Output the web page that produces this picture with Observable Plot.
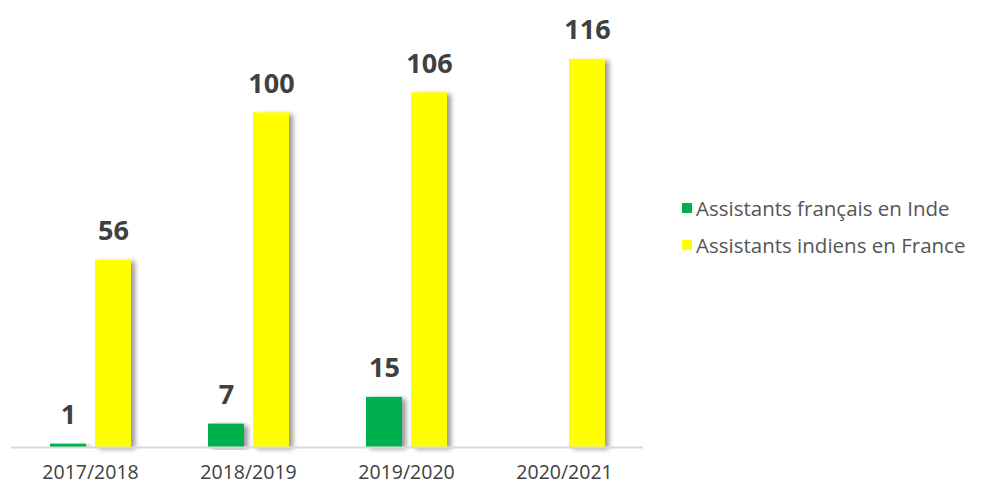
<!DOCTYPE html>
<html>
<head>
<meta charset="utf-8">
<script src="https://cdn.jsdelivr.net/npm/d3@7"></script>
<script src="https://cdn.jsdelivr.net/npm/@observablehq/plot@0.6"></script>
<style>
  html, body { margin: 0; padding: 0; background: #fff; }
  #wrap { position: relative; width: 984px; height: 489px; font-family: "Open Sans", sans-serif; }
  #legend { position: absolute; left: 682px; top: 189px; font-size: 20.5px; color: #555555; }
  #legend .item { display: flex; align-items: center; height: 37px; }
  #legend .sw { width: 10px; height: 10px; margin-right: 4px; }
</style>
</head>
<body>
<div id="wrap"><div id="chart"></div><div id="legend"></div></div>
<script>
const seasons = ["2017/2018", "2018/2019", "2019/2020", "2020/2021"];
const seriesNames = ["Assistants français en Inde", "Assistants indiens en France"];
const francais = [1, 7, 15, null];
const indiens = [56, 100, 106, 116];
const colors = ["#00b050", "#ffff00"];

const rows = [];
seasons.forEach((s, i) => {
  if (francais[i] != null) rows.push({season: s, series: seriesNames[0], value: francais[i]});
  if (indiens[i] != null) rows.push({season: s, series: seriesNames[1], value: indiens[i]});
});

const chart = Plot.plot({
  width: 984,
  height: 489,
  marginLeft: 10,
  marginRight: 340,
  marginTop: 12,
  marginBottom: 42,
  style: {fontFamily: "Open Sans, sans-serif", background: "#fff"},
  fx: {domain: seasons, padding: 0, label: null, tickSize: 0, tickPadding: 18, fontSize: 20},
  x: {domain: seriesNames, paddingInner: 0.21, paddingOuter: 0.86, axis: null},
  y: {domain: [0, 130], axis: null},
  color: {domain: seriesNames, range: colors},
  marks: [
    Plot.barY(rows, {fx: "season", x: "series", y: "value", fill: "series", className: "bars"}),
    Plot.ruleY([0], {stroke: "#d9d9d9", strokeWidth: 2}),
    Plot.text(rows, {fx: "season", x: "series", y: "value", text: d => String(d.value), dy: -20, lineAnchor: "bottom", fontSize: 27, fontWeight: 700, fill: "#404040"})
  ]
});
document.getElementById("chart").appendChild(chart);

d3.select(chart).selectAll("[aria-label='fx-axis tick label']").attr("fill", "#404040").attr("font-size", 19.5);

const defs = d3.select(chart).insert("defs", ":first-child");
const f = defs.append("filter").attr("id", "barShadow").attr("x", "-50%").attr("y", "-10%").attr("width", "200%").attr("height", "120%");
f.append("feDropShadow").attr("dx", 4).attr("dy", 2).attr("stdDeviation", 2.5).attr("flood-color", "#000").attr("flood-opacity", 0.4);
d3.select(chart).selectAll("g.bars rect, .bars rect").attr("filter", "url(#barShadow)");

const leg = d3.select("#legend");
seriesNames.forEach((n, i) => {
  const it = leg.append("div").attr("class", "item");
  it.append("div").attr("class", "sw").style("background", colors[i]);
  it.append("span").text(n);
});
</script>
</body>
</html>
